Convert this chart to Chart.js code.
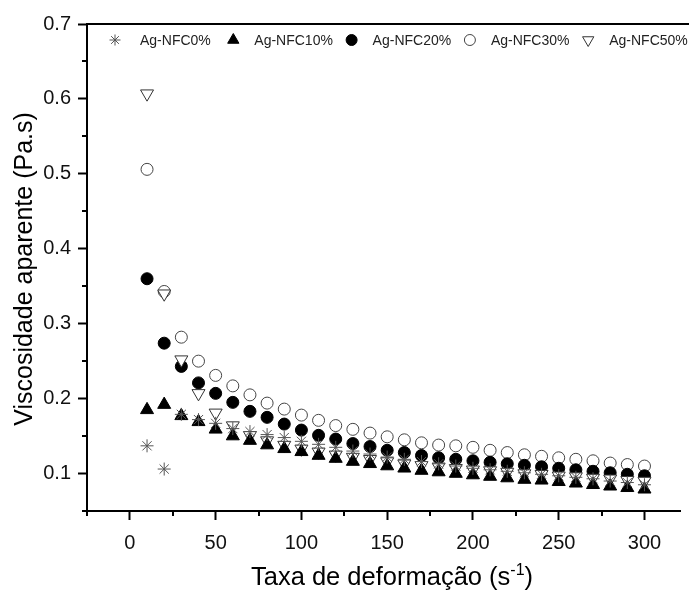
<!DOCTYPE html>
<html>
<head>
<meta charset="utf-8">
<script src="https://cdn.jsdelivr.net/npm/chart.js@4.4.1/dist/chart.umd.min.js"></script>
<style>
  html, body { margin: 0; padding: 0; background: #fff; overflow: hidden; }
  #grafico { display: block; }
</style>
</head>
<body>
<canvas id="grafico" width="689" height="592"></canvas>
<script>
// Taxa de deformação (s-1)
const taxa = [10, 20, 30, 40, 50, 60, 70, 80, 90, 100, 110, 120, 130, 140, 150,
  160, 170, 180, 190, 200, 210, 220, 230, 240, 250, 260, 270, 280, 290, 300];

// Viscosidade aparente (Pa.s) por amostra
const ag0 = [0.137, 0.106, 0.179, 0.172, 0.167, 0.160, 0.156, 0.152, 0.148, 0.143,
  0.139, 0.135, 0.130, 0.126, 0.122, 0.119, 0.116, 0.113, 0.110, 0.107,
  0.105, 0.103, 0.101, 0.099, 0.097, 0.095, 0.093, 0.090, 0.088, 0.085];
const ag10 = [0.185, 0.192, 0.177, 0.169, 0.159, 0.150, 0.144, 0.138, 0.133, 0.129,
  0.124, 0.120, 0.116, 0.113, 0.110, 0.107, 0.104, 0.102, 0.100, 0.098,
  0.096, 0.094, 0.092, 0.091, 0.089, 0.087, 0.085, 0.083, 0.081, 0.079];
const ag20 = [0.360, 0.274, 0.243, 0.221, 0.207, 0.195, 0.183, 0.175, 0.166, 0.158,
  0.151, 0.146, 0.140, 0.136, 0.131, 0.128, 0.124, 0.121, 0.119, 0.117,
  0.115, 0.113, 0.111, 0.109, 0.107, 0.105, 0.103, 0.101, 0.099, 0.097];
const ag30 = [0.506, 0.343, 0.282, 0.250, 0.231, 0.217, 0.205, 0.194, 0.186, 0.178,
  0.171, 0.164, 0.159, 0.154, 0.149, 0.145, 0.141, 0.138, 0.137, 0.135,
  0.131, 0.128, 0.125, 0.123, 0.121, 0.119, 0.117, 0.114, 0.112, 0.110];
const ag50 = [0.607, 0.340, 0.252, 0.207, 0.181, 0.164, 0.151, 0.144, 0.138, 0.133,
  0.129, 0.125, 0.122, 0.119, 0.116, 0.113, 0.111, 0.109, 0.107, 0.105,
  0.104, 0.102, 0.100, 0.099, 0.097, 0.096, 0.094, 0.093, 0.091, 0.090];

const nomes = ['Ag-NFC0%', 'Ag-NFC10%', 'Ag-NFC20%', 'Ag-NFC30%', 'Ag-NFC50%'];

// Marcas dos eixos
const xTicks = [0, 50, 100, 150, 200, 250, 300];
const xMinor = [-25, 25, 75, 125, 175, 225, 275];
const yTicks = [0.1, 0.2, 0.3, 0.4, 0.5, 0.6, 0.7];
const yMinor = [0.05, 0.15, 0.25, 0.35, 0.45, 0.55, 0.65];

const FONTE = "'Liberation Sans', Arial, sans-serif";

function pontos(valores) {
  return taxa.map((x, i) => ({ x: x, y: valores[i] }));
}

// estilo de cada série (ordem: maior = desenhada antes)
const estilos = [
  { pointStyle: 'star', rotation: 0, radius: 6.5, fill: '#555', stroke: '#555', order: 1 },
  { pointStyle: 'triangle', rotation: 0, radius: 7.5, fill: '#000', stroke: '#000', order: 2 },
  { pointStyle: 'circle', rotation: 0, radius: 6, fill: '#000', stroke: '#000', order: 4 },
  { pointStyle: 'circle', rotation: 0, radius: 6, fill: '#fff', stroke: '#444', order: 5 },
  { pointStyle: 'triangle', rotation: 180, radius: 7.5, fill: '#fff', stroke: '#333', order: 3 }
];
const valores = [ag0, ag10, ag20, ag30, ag50];

const datasets = valores.map((v, i) => ({
  label: nomes[i],
  data: pontos(v),
  showLine: false,
  pointStyle: estilos[i].pointStyle,
  rotation: estilos[i].rotation,
  pointRadius: estilos[i].radius,
  pointBackgroundColor: estilos[i].fill,
  pointBorderColor: estilos[i].stroke,
  pointBorderWidth: 1,
  order: estilos[i].order
}));

// moldura superior, marcas menores, legenda e títulos dos eixos
const extras = {
  id: 'extras',
  afterDraw(chart) {
    const ctx = chart.ctx;
    const area = chart.chartArea;
    const sx = chart.scales.x;
    const sy = chart.scales.y;
    ctx.save();

    ctx.strokeStyle = '#000';
    ctx.lineWidth = 2;
    ctx.beginPath();
    ctx.moveTo(area.left - 1, area.top);
    ctx.lineTo(chart.width, area.top);
    ctx.stroke();

    ctx.lineWidth = 2;
    xMinor.forEach(v => {
      const px = Math.round(sx.getPixelForValue(v));
      ctx.beginPath();
      ctx.moveTo(px, area.bottom);
      ctx.lineTo(px, area.bottom + 5);
      ctx.stroke();
    });
    yMinor.forEach(v => {
      const py = Math.round(sy.getPixelForValue(v));
      ctx.beginPath();
      ctx.moveTo(area.left, py);
      ctx.lineTo(area.left - 5, py);
      ctx.stroke();
    });

    // legenda dentro da área do gráfico
    ctx.font = '14px ' + FONTE;
    ctx.textBaseline = 'middle';
    ctx.textAlign = 'left';
    const ly = area.top + 16;
    nomes.forEach((nome, i) => {
      const mx = area.left + 28 + i * 118.3;
      const e = estilos[i];
      ctx.fillStyle = e.fill;
      ctx.strokeStyle = e.stroke;
      ctx.lineWidth = 1;
      Chart.helpers.drawPoint(ctx, {
        pointStyle: e.pointStyle,
        rotation: e.rotation,
        radius: e.pointStyle === 'triangle' ? 6.5 : 5.5,
        borderWidth: 1
      }, mx, ly);
      ctx.fillStyle = '#222';
      ctx.fillText(nome, mx + (i === 0 ? 25 : 21), ly + 1);
    });

    // título do eixo x com expoente
    ctx.fillStyle = '#000';
    ctx.textBaseline = 'alphabetic';
    const base = 'Taxa de deformação (s';
    const exp = '-1';
    const fim = ')';
    ctx.font = '25.5px ' + FONTE;
    const wBase = ctx.measureText(base).width;
    const wFim = ctx.measureText(fim).width;
    ctx.font = '16px ' + FONTE;
    const wExp = ctx.measureText(exp).width;
    let tx = 392 - (wBase + wExp + wFim) / 2;
    const tyx = 585;
    ctx.font = '25.5px ' + FONTE;
    ctx.fillText(base, tx, tyx);
    tx += wBase;
    ctx.font = '16px ' + FONTE;
    ctx.fillText(exp, tx, tyx - 10);
    tx += wExp;
    ctx.font = '25.5px ' + FONTE;
    ctx.fillText(fim, tx, tyx);

    // título do eixo y
    ctx.translate(32, 269);
    ctx.rotate(-Math.PI / 2);
    ctx.textAlign = 'center';
    ctx.font = '25px ' + FONTE;
    ctx.fillText('Viscosidade aparente (Pa.s)', 0, 0);

    ctx.restore();
  }
};

new Chart(document.getElementById('grafico'), {
  type: 'scatter',
  data: { datasets: datasets },
  options: {
    responsive: false,
    animation: false,
    devicePixelRatio: 1,
    layout: { padding: { top: 24, right: 1, left: 0, bottom: 0 } },
    plugins: {
      legend: { display: false },
      tooltip: { enabled: false }
    },
    scales: {
      x: {
        type: 'linear',
        min: -25,
        max: 321,
        afterFit(scale) {
          scale.height = 81;
          scale.paddingLeft = 0;
          scale.paddingRight = 0;
        },
        afterBuildTicks(scale) { scale.ticks = xTicks.map(v => ({ value: v })); },
        border: { display: true, color: '#000', width: 2 },
        grid: { drawOnChartArea: false, drawTicks: true, tickLength: 9, tickWidth: 2, tickColor: '#000' },
        ticks: {
          color: '#111',
          padding: 11,
          maxRotation: 0,
          autoSkip: false,
          font: { family: FONTE, size: 20 },
          callback: v => String(v)
        }
      },
      y: {
        type: 'linear',
        min: 0.05,
        max: 0.7,
        afterFit(scale) {
          scale.width = 87;
          scale.paddingTop = 0;
          scale.paddingBottom = 0;
        },
        afterBuildTicks(scale) { scale.ticks = yTicks.map(v => ({ value: v })); },
        border: { display: true, color: '#000', width: 2 },
        grid: { drawOnChartArea: false, drawTicks: true, tickLength: 9, tickWidth: 2, tickColor: '#000' },
        ticks: {
          color: '#111',
          padding: 7,
          autoSkip: false,
          font: { family: FONTE, size: 20 },
          callback: v => v.toFixed(1)
        }
      }
    }
  },
  plugins: [extras]
});
</script>
</body>
</html>
